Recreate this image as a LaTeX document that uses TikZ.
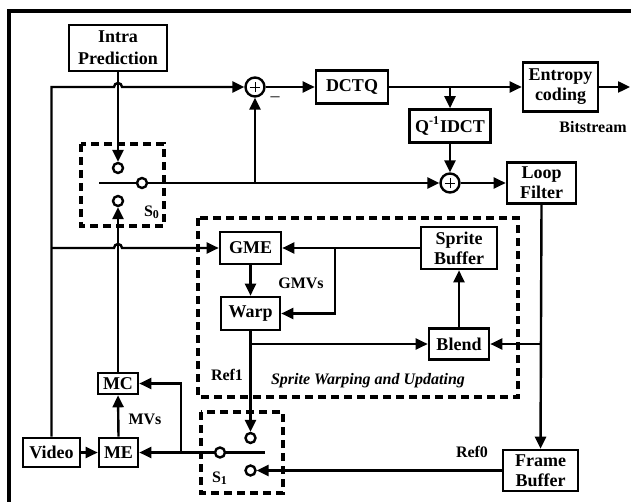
\documentclass[tikz,border=0pt]{standalone}
\usepackage{fontspec}
\setmainfont{Liberation Serif}
\usetikzlibrary{arrows.meta,positioning,calc}

\tikzset{
  blk/.style={draw, line width=1.3pt, fill=white, inner sep=0pt, align=center,
    font=\fontsize{9}{10}\selectfont\bfseries},
  lbl/.style={inner sep=0pt, font=\fontsize{8}{9.5}\selectfont\bfseries},
  sum/.style={draw, circle, line width=1.2pt, minimum size=9.5pt, inner sep=0pt, fill=white},
  pin/.style={draw, circle, line width=1.2pt, minimum size=5pt, inner sep=0pt, fill=white},
  conn/.style={line width=1.2pt, -{Triangle[length=6pt,width=5.5pt]}},
  wire/.style={line width=1.2pt},
  dashbox/.style={line width=1.6pt, dash pattern=on 4pt off 2.5pt},
}

\begin{document}
\begin{tikzpicture}[x=0.5pt,y=-0.5pt]
    \useasboundingbox (0,0) rectangle (631,502);
    % Frame
    \draw[line width=1.6pt] (9,506) -- (9,11) -- (636,11);

    % Encoder blocks
    \node[blk, minimum width=49pt, minimum height=23pt, font=\fontsize{9}{11}\selectfont\bfseries] (intra) at (118,48) {Intra\\Prediction};
    \node[sum] (add1) at (255,87) {};
    \node[blk, minimum width=36pt, minimum height=16.5pt] (dctq) at (352,87) {DCTQ};
    \node[blk, minimum width=37.5pt, minimum height=24.5pt] (entropy) at (560.5,87) {Entropy\\coding};
    \node[blk, minimum width=40.5pt, minimum height=16.5pt] (qidct) at (450,126) {Q\textsuperscript{-1}IDCT};
    \node[sum] (add2) at (450,183) {};
    \node[blk, minimum width=34.5pt, minimum height=20.5pt] (loop) at (541.5,183) {Loop\\Filter};
    \node[blk, minimum width=37.5pt, minimum height=20.5pt] (frame) at (540.5,470.5) {Frame\\Buffer};

    % Sprite part
    \node[blk, minimum width=30.5pt, minimum height=16pt] (gme) at (250.5,248) {GME};
    \node[blk, minimum width=29.5pt, minimum height=16.5pt] (warp) at (250.5,313.5) {Warp};
    \node[blk, minimum width=38pt, minimum height=21pt] (sprite) at (459,248) {Sprite\\Buffer};
    \node[blk, minimum width=30pt, minimum height=15.5pt] (blend) at (459,344) {Blend};

    % Motion part
    \node[blk, minimum width=20pt, minimum height=10.5pt] (mc) at (118,383.5) {MC};
    \node[blk, minimum width=19.5pt, minimum height=14.5pt] (me) at (118.5,452.5) {ME};
    \node[blk, minimum width=28.5pt, minimum height=14.5pt] (video) at (51.5,452.5) {Video};

    % Switches
    \node[pin] (s0a) at (118,168) {};
    \node[pin] (s0c) at (142,183) {};
    \node[pin] (s0b) at (118,201) {};
    \coordinate (s0l) at (99,183);
    \node[pin] (s1a) at (250.5,438) {};
    \node[pin] (s1c) at (220,452.5) {};
    \node[pin] (s1b) at (250.5,470.5) {};
    \coordinate (s1r) at (265,452.5);
    \draw[dashbox] (81,144) rectangle (164,226);
    \draw[dashbox] (201,412) rectangle (283,493);
    \draw[dashbox] (198,218) rectangle (518,397);

    % Plus signs
    \foreach \s in {add1,add2} {
        \draw[line width=0.4pt] ([xshift=-2.6pt]\s.center) -- ([xshift=2.6pt]\s.center);
        \draw[line width=0.4pt] ([yshift=-2.6pt]\s.center) -- ([yshift=2.6pt]\s.center);
    }

    % Labels
    \node[lbl] (bits) at (593,127) {Bitstream};
    \node[lbl] (gmvs) at (301,283) {GMVs};
    \node[lbl] (ref1) at (227,375) {Ref1};
    \node[lbl] (ref0) at (472,452) {Ref0};
    \node[lbl] (mvs) at (145,419) {MVs};
    \node[lbl] (s0lbl) at (152,212) {S\textsubscript{0}};
    \node[lbl] (s1lbl) at (220,478) {S\textsubscript{1}};
    \node[lbl, font=\fontsize{8}{9.5}\selectfont\bfseries\itshape] (sprlbl) at (368,381) {Sprite Warping and Updating};
    \node[inner sep=0pt, font=\fontsize{9}{9}\selectfont] (minus) at (275,99) {--};
    \coordinate (bsout) at (630,87);
    \coordinate (gmvjoin) at (335,248);
    \coordinate (mvjoin) at (181,452.5);

    % Connectors
    \draw[conn] (video.north) -- (video.north |- add1.west)
        -- ([xshift=-2pt]intra.south |- add1.west) arc[start angle=180,end angle=0,radius=2pt] -- (add1.west);
    \draw[conn] (video.north |- gme.west)
        -- ([xshift=-2pt]mc.north |- gme.west) arc[start angle=180,end angle=0,radius=2pt] -- (gme.west);
    \draw[conn] (intra.south) -- (s0a.north);
    \draw[conn] (mc.north) -- (s0b.south);
    \draw[wire] (s0l) -- (s0c.west);
    \draw[conn] (s0c.east) -- (add2.west);
    \draw[conn] (add1.south |- s0c.east) -- (add1.south);
    \draw[conn] (add1.east) -- (dctq.west);
    \draw[conn] (dctq.east) -- (entropy.west);
    \draw[conn] (entropy.east) -- (bsout);
    \draw[conn] (qidct.north |- dctq.east) -- (qidct.north);
    \draw[conn] (qidct.south) -- (add2.north);
    \draw[conn] (add2.east) -- (loop.west);
    \draw[conn] (loop.south) -- (frame.north);
    \draw[conn] (loop.south |- blend.east) -- (blend.east);
    \draw[conn] (blend.north) -- (sprite.south);
    \draw[conn] (sprite.west) -- (gme.east);
    \draw[conn] (gmvjoin) |- (warp.east);
    \draw[conn] (gme.south) -- (warp.north);
    \draw[conn] (warp.south |- blend.west) -- (blend.west);
    \draw[conn] (warp.south) -- (s1a.north);
    \draw[conn] (frame.west) -- (s1b.east);
    \draw[wire] (s1c.east) -- (s1r);
    \draw[conn] (s1c.west) -- (me.east);
    \draw[conn] (mvjoin) |- (mc.east);
    \draw[conn] (video.east) -- (me.west);
    \draw[conn] (me.north) -- (mc.south);
\end{tikzpicture}
\end{document}
